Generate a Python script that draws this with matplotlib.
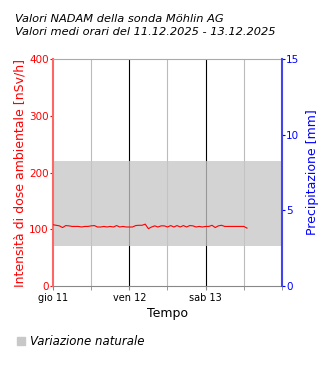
import numpy as np
import matplotlib.pyplot as plt
from matplotlib.patches import Patch

# Valori orari (ore dall'11.12.2025 00:00)
ore = np.arange(62)
dose = [108, 107, 106, 103, 106.5, 106, 105, 105, 105, 104, 105, 105,
        106, 106.5, 104, 104, 105, 104, 105, 104, 106.5, 104, 105, 104,
        104, 104, 106.5, 107, 107, 109, 101, 104, 106, 104, 106, 106,
        104, 106.5, 104, 106.5, 104, 106.5, 104, 106.5, 106, 104, 105, 104,
        105, 105, 107, 103, 106, 107, 105, 105, 105, 105, 105, 105, 105, 102]
var_min, var_max = 70, 220
giorni = ['gio 11', 'ven 12', 'sab 13']

fig = plt.figure(figsize=(3.3, 3.7), dpi=100)
ax = fig.add_axes([0.1606, 0.227, 0.6939, 0.6135])

for h in [12, 36, 60]:
    ax.axvline(h, color='#bbbbbb', lw=0.8, zorder=1)
for h in [24, 48]:
    ax.axvline(h, color='black', lw=0.8, zorder=1)
# banda semitrasparente sopra la griglia
ax.axhspan(var_min, var_max, color='#c6c6c6', alpha=0.77, lw=0, zorder=2)
ax.plot(ore, dose, color='red', lw=0.8, zorder=3)

ax.set_xlim(0, 72)
ax.set_ylim(0, 400)
ax.set_xticks([0, 24, 48])
ax.set_xticklabels(giorni, fontsize=7)
ax.set_xticks([12, 36, 60, 72], minor=True)
ax.set_yticks([0, 100, 200, 300, 400])
ax.tick_params(axis='y', colors='red', labelsize=7.5, length=2, pad=1)
ax.tick_params(axis='x', which='both', length=3, color='#888888', labelsize=7, pad=2)
ax.set_ylabel('Intensità di dose ambientale [nSv/h]', color='red', fontsize=9, labelpad=2)
ax.set_xlabel('Tempo', fontsize=9, labelpad=3)

ax.spines['left'].set_color('#ff6666')
ax.spines['left'].set_linewidth(1.5)
ax.spines['bottom'].set_color('#888888')
ax.spines['top'].set_color('#aaaaaa')
ax.spines['right'].set_visible(False)

ax2 = ax.twinx()
ax2.set_ylim(0, 15)
ax2.set_yticks([0, 5, 10, 15])
ax2.tick_params(axis='y', colors='blue', labelsize=7.5, length=2, pad=1)
ax2.set_ylabel('Precipitazione [mm]', color='blue', fontsize=9, labelpad=5)
ax2.spines['right'].set_color('#4444ee')
ax2.spines['right'].set_linewidth(1.5)
for s in ['left', 'top', 'bottom']:
    ax2.spines[s].set_visible(False)

fig.text(0.045, 0.962, 'Valori NADAM della sonda Möhlin AG', fontsize=8.2,
         style='italic', va='top')
fig.text(0.045, 0.926, 'Valori medi orari del 11.12.2025 - 13.12.2025', fontsize=8.2,
         style='italic', va='top')

fig.legend(handles=[Patch(color='#c8c8c8', label='Variazione naturale')],
           loc='lower left', bbox_to_anchor=(0.02, 0.03), frameon=False,
           prop={'style': 'italic', 'size': 8.5}, handlelength=0.7, handleheight=0.7,
           handletextpad=0.4)

fig.savefig('out.png', dpi=100)
